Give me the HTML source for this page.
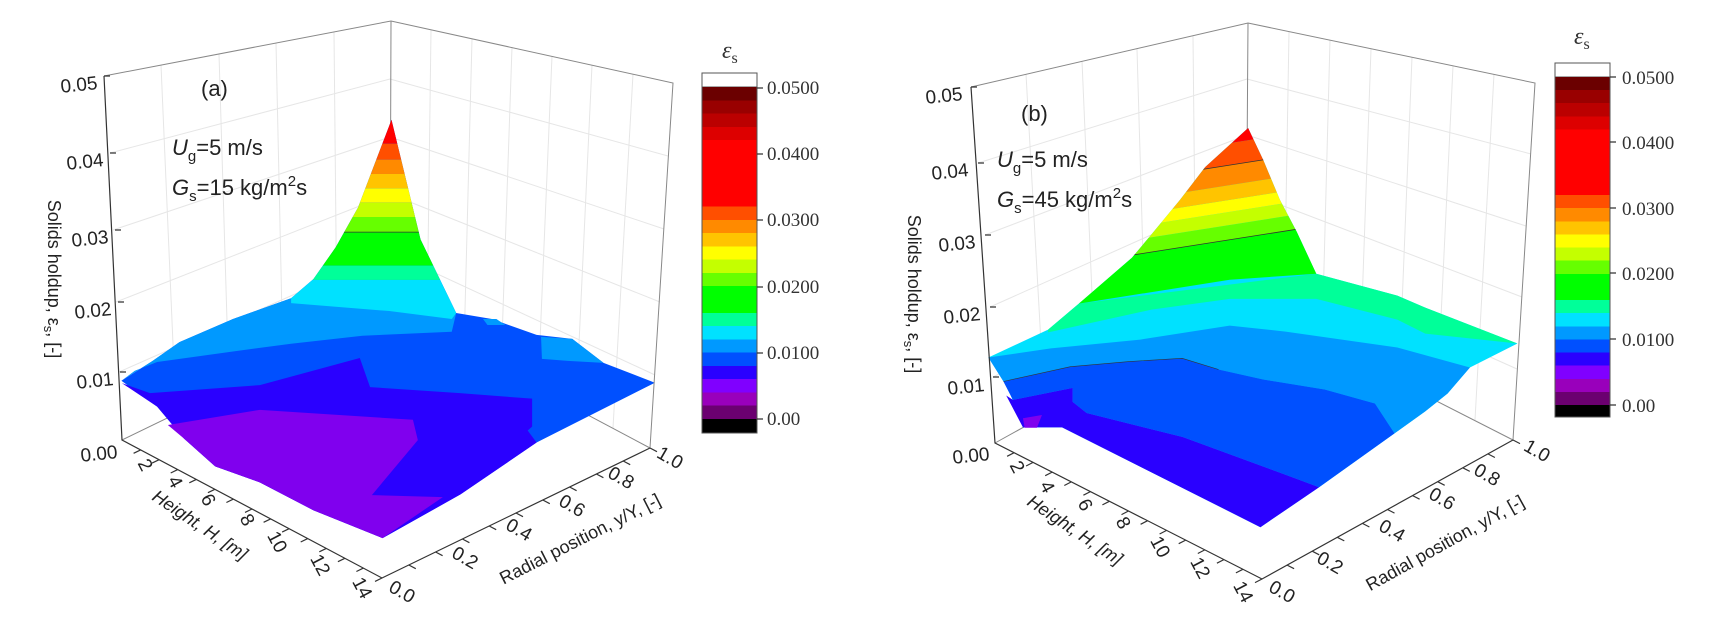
<!DOCTYPE html>
<html><head><meta charset="utf-8"><style>
html,body{margin:0;padding:0;background:#fff;}
svg{display:block;}
.t{font-family:"Liberation Sans",Arial,sans-serif;fill:#222;}
.s{font-family:"Liberation Serif","DejaVu Serif",serif;fill:#333;}
.ax{stroke:#333;stroke-width:1.2;fill:none;}
.gr{stroke:#e6e6e6;stroke-width:1;fill:none;}
.bx{stroke:#888;stroke-width:1;fill:none;}
</style></head><body>
<svg width="1716" height="626" viewBox="0 0 1716 626" xmlns="http://www.w3.org/2000/svg">
<defs>
<linearGradient id="cb" x1="0" y1="0" x2="0" y2="1">
<stop offset="0" stop-color="#6b0000"/><stop offset=".04" stop-color="#6b0000"/>
<stop offset=".04" stop-color="#990000"/><stop offset=".08" stop-color="#990000"/>
<stop offset=".08" stop-color="#bb0000"/><stop offset=".12" stop-color="#bb0000"/>
<stop offset=".12" stop-color="#dd0000"/><stop offset=".16" stop-color="#dd0000"/>
<stop offset=".16" stop-color="#ff0000"/><stop offset=".36" stop-color="#ff0000"/>
<stop offset=".36" stop-color="#ff4f00"/><stop offset=".40" stop-color="#ff4f00"/>
<stop offset=".40" stop-color="#ff8a00"/><stop offset=".44" stop-color="#ff8a00"/>
<stop offset=".44" stop-color="#ffc400"/><stop offset=".48" stop-color="#ffc400"/>
<stop offset=".48" stop-color="#ffff00"/><stop offset=".52" stop-color="#ffff00"/>
<stop offset=".52" stop-color="#c4ff00"/><stop offset=".56" stop-color="#c4ff00"/>
<stop offset=".56" stop-color="#66ff00"/><stop offset=".60" stop-color="#66ff00"/>
<stop offset=".60" stop-color="#00ff00"/><stop offset=".68" stop-color="#00ff00"/>
<stop offset=".68" stop-color="#00ff99"/><stop offset=".72" stop-color="#00ff99"/>
<stop offset=".72" stop-color="#00e1ff"/><stop offset=".76" stop-color="#00e1ff"/>
<stop offset=".76" stop-color="#0099ff"/><stop offset=".80" stop-color="#0099ff"/>
<stop offset=".80" stop-color="#0050ff"/><stop offset=".84" stop-color="#0050ff"/>
<stop offset=".84" stop-color="#2a00ff"/><stop offset=".88" stop-color="#2a00ff"/>
<stop offset=".88" stop-color="#8000ff"/><stop offset=".92" stop-color="#8000ff"/>
<stop offset=".92" stop-color="#9900bb"/><stop offset=".96" stop-color="#9900bb"/>
<stop offset=".96" stop-color="#6b0070"/><stop offset="1" stop-color="#6b0070"/>
</linearGradient>
<clipPath id="pkL"><polygon points="650,748 700,700 750,620 800,520 875,300 940,600 1020,785 1010,800 870,780 650,760"/></clipPath>
<clipPath id="pkR"><polygon points="430,760 525,645 555,595 611,500 656,418 733,320 760,400 790,500 820,580 855,685 700,700"/></clipPath>
</defs>

<!-- ================= LEFT PANEL ================= -->
<g>
<!-- wall grids -->
<path class="gr" d="M176,414 L161,65 M229,388 L219,54 M283,362 L276,43 M337,336 L334,32
M427,330 L431,30 M464,349 L472,39 M501,369 L512,47 M538,389 L552,56 M576,408 L592,65 M613,428 L633,74
M110,153 L390,79 M113,230 L390,137 M116,302 L390,194 M119,372 L390,252
M390,79 L668,156 M390,137 L664,229 M390,194 L660,302 M390,252 L655,375"/>
<path class="bx" d="M122,440 L390,310 L650,448 M391,21 L390,310"/>
<!-- surface -->
<g transform="matrix(0.4464 0 0 0.3984 0.9 0.28)">
<polygon fill="#0050ff" points="270,955 340,905 400,858 520,800 650,748 700,700 750,620 800,520 875,300 940,600 1020,785 1100,800 1200,840 1280,850 1350,910 1465,960 1200,1110 1030,1240 855,1350 700,1280 580,1210 480,1170 410,1100 350,1020"/>
<polygon fill="#0099ff" points="270,955 340,905 400,858 520,800 650,748 1020,785 1010,832 810,842 650,862 530,880 350,908 300,930"/>
<polygon fill="#0099ff" points="1210,845 1280,850 1350,910 1270,905 1212,900"/>
<polygon fill="#0099ff" points="1080,800 1110,800 1130,815 1090,815"/>
<polygon fill="#2a00ff" points="271,961 334,986 580,966 804,898 827,971 1028,986 1190,1000 1190,1070 1180,1080 1200,1110 1030,1240 855,1350 700,1280 580,1210 480,1170 410,1100 350,1020"/>
<polygon fill="#8000ee" points="374,1066 580,1028 923,1053 934,1104 831,1242 990,1247 855,1350 700,1280 580,1210 480,1170 410,1100"/>
<g clip-path="url(#pkL)">
<rect x="600" y="280" width="500" height="80" fill="#ff0000"/>
<rect x="600" y="360" width="500" height="40" fill="#ff4f00"/>
<rect x="600" y="400" width="500" height="36" fill="#ff8a00"/>
<rect x="600" y="436" width="500" height="36" fill="#ffc400"/>
<rect x="600" y="472" width="500" height="36" fill="#ffff00"/>
<rect x="600" y="508" width="500" height="36" fill="#c4ff00"/>
<rect x="600" y="544" width="500" height="38" fill="#66ff00"/>
<rect x="600" y="582" width="500" height="84" fill="#00ff00"/>
<rect x="600" y="666" width="500" height="36" fill="#00ff99"/>
<rect x="600" y="702" width="500" height="100" fill="#00e1ff"/>
<line x1="600" y1="582" x2="1100" y2="582" stroke="#333" stroke-width="2"/>
</g>
</g>
<!-- box -->
<path class="bx" d="M104,76 L391,21 L673,83 L650,448"/>
<path class="ax" d="M104,76 L122,440 L382,578 L650,448"/>
<path class="ax" d="M104,76 l6,0 M110,153 l6,0 M115,230 l6,0 M118,302 l6,0 M120,372 l6,0
M140.6,449.9 l-7,3.4 M159.1,459.7 l-7,3.4 M177.7,469.6 l-7,3.4 M196.3,479.4 l-7,3.4 M214.9,489.3 l-7,3.4 M233.4,499.1 l-7,3.4 M252,509 l-7,3.4 M270.6,518.9 l-7,3.4 M289.1,528.7 l-7,3.4 M307.7,538.6 l-7,3.4 M326.3,548.4 l-7,3.4 M344.9,558.3 l-7,3.4 M363.4,568.1 l-7,3.4 M382,578 l-7,3.4
M408.8,565 l7,3.7 M435.6,552 l7,3.7 M462.4,539 l7,3.7 M489.2,526 l7,3.7 M516,513 l7,3.7 M542.8,500 l7,3.7 M569.6,487 l7,3.7 M596.4,474 l7,3.7 M623.2,461 l7,3.7 M650,448 l7,3.7"/>
<!-- z labels -->
<g class="t" font-size="19" text-anchor="end">
<text x="98" y="89" transform="rotate(-6 98 89)">0.05</text>
<text x="104" y="166" transform="rotate(-6 104 166)">0.04</text>
<text x="109" y="243" transform="rotate(-6 109 243)">0.03</text>
<text x="112" y="315" transform="rotate(-6 112 315)">0.02</text>
<text x="114" y="385" transform="rotate(-6 114 385)">0.01</text>
<text x="118" y="458" transform="rotate(-6 118 458)">0.00</text>
</g>
<!-- H labels -->
<g class="t" font-size="19" text-anchor="middle">
<text x="145" y="471" transform="rotate(62 145 465)">2</text>
<text x="175" y="488" transform="rotate(62 175 482)">4</text>
<text x="208" y="506" transform="rotate(62 208 500)">6</text>
<text x="247" y="526" transform="rotate(62 247 520)">8</text>
<text x="277" y="548" transform="rotate(62 277 542)">10</text>
<text x="320" y="571" transform="rotate(62 320 565)">12</text>
<text x="362" y="594" transform="rotate(62 362 588)">14</text>
<text x="402" y="598" transform="rotate(30 402 592)">0.0</text>
<text x="465" y="564" transform="rotate(30 465 558)">0.2</text>
<text x="519" y="536" transform="rotate(30 519 530)">0.4</text>
<text x="572" y="512" transform="rotate(30 572 506)">0.6</text>
<text x="621" y="484" transform="rotate(30 621 478)">0.8</text>
<text x="670" y="464" transform="rotate(30 670 458)">1.0</text>
</g>
<text class="t" font-size="18" x="200" y="531" text-anchor="middle" transform="rotate(34 200 525)" font-style="italic">Height, H, [m]</text>
<text class="t" font-size="18" x="580" y="545" text-anchor="middle" transform="rotate(-27 580 539)">Radial position, y/Y, [-]</text>
<text class="t" font-size="18" x="54" y="285" text-anchor="middle" transform="rotate(90 54 279)">Solids holdup, ε<tspan font-size="13" dy="4">s</tspan><tspan dy="-4">, [-]</tspan></text>
<text class="t" font-size="22" x="201" y="96">(a)</text>
<text class="t" font-size="22" x="172" y="155"><tspan font-style="italic">U</tspan><tspan font-size="15" dy="6">g</tspan><tspan dy="-6">=5 m/s</tspan></text>
<text class="t" font-size="22" x="172" y="195"><tspan font-style="italic">G</tspan><tspan font-size="15" dy="6">s</tspan><tspan dy="-6">=15 kg/m</tspan><tspan font-size="15" dy="-9">2</tspan><tspan dy="9">s</tspan></text>
<!-- colorbar -->
<text class="s" font-size="24" font-style="italic" x="722" y="58">ε<tspan font-size="16" font-style="normal" dy="5">s</tspan></text>
<rect x="702" y="73" width="55" height="14" fill="#fff" stroke="#555"/>
<rect x="702" y="87" width="55" height="332" fill="url(#cb)"/>
<rect x="702" y="419" width="55" height="14" fill="#000"/>
<rect x="702" y="73" width="55" height="360" fill="none" stroke="#555"/>
<path class="ax" d="M757,88 h6 M757,154 h6 M757,220 h6 M757,287 h6 M757,353 h6 M757,419 h6"/>
<g class="s" font-size="19">
<text x="767" y="94">0.0500</text><text x="767" y="160">0.0400</text><text x="767" y="226">0.0300</text>
<text x="767" y="293">0.0200</text><text x="767" y="359">0.0100</text><text x="767" y="425">0.00</text>
</g>
</g>

<!-- ================= RIGHT PANEL ================= -->
<g>
<path class="gr" d="M1045,415 L1026,74 M1096,387 L1082,61 M1146,360 L1137,49 M1196,332 L1193,36
M1284,323 L1289,32 M1322,343 L1330,40 M1360,362 L1371,49 M1399,381 L1412,57 M1437,401 L1453,66 M1475,420 L1494,74
M978,163 L1247,79 M985,235 L1247,135 M990,307 L1247,192 M993,377 L1247,248
M1247,79 L1531,154 M1247,135 L1526,226 M1247,192 L1522,297 M1247,248 L1517,369"/>
<path class="bx" d="M995,443 L1246,304 L1513,440 M1248,23 L1246,304"/>
<g transform="matrix(0.5587 0 0 0.3992 838.6 0.25)">
<polygon fill="#00e1ff" points="268,895 375,825 430,760 525,645 555,595 611,500 656,418 733,320 760,400 790,500 820,580 855,685 1000,740 1050,770 1215,860 1130,920 1090,985 1050,1030 995,1085 860,1220 755,1320 400,1070 330,1070 300,960"/>
<polygon fill="#00ff99" points="375,825 430,760 855,685 1000,740 1050,770 1215,860 1050,835 1000,800 855,748 700,748 560,775 375,832"/>
<polygon fill="#0099ff" points="268,895 380,872 540,850 700,815 800,830 1000,870 1130,920 1090,985 1050,1030 995,1085 960,1010 870,975 760,950 680,925 615,897 520,905 415,918 295,955"/>
<polygon fill="#0050ff" points="295,955 415,918 520,905 615,897 680,925 760,950 870,975 960,1010 995,1085 860,1220 826,1202 616,1094 444,1034 419,1006 419,971 312,1001"/>
<polygon fill="#2a00ff" points="312,1001 419,971 419,1006 444,1034 616,1094 826,1202 860,1220 755,1320 400,1070 330,1070 300,990"/>
<polygon fill="#8000ee" points="330,1047 364,1039 355,1071 333,1071"/>
<g clip-path="url(#pkR)">
<polygon fill="#00ff00" points="300,688 1000,534 1000,900 300,900"/>
<polygon fill="#66ff00" points="300,651 1000,497 1000,534 300,688"/>
<polygon fill="#c4ff00" points="300,618 1000,464 1000,497 300,651"/>
<polygon fill="#ffff00" points="300,588 1000,434 1000,464 300,618"/>
<polygon fill="#ffc400" points="300,551 1000,397 1000,434 300,588"/>
<polygon fill="#ff8a00" points="300,501 1000,347 1000,397 300,551"/>
<polygon fill="#ff4f00" points="300,446 1000,292 1000,347 300,501"/>
<polygon fill="#ff0000" points="300,200 1000,200 1000,292 300,446"/>
<line x1="300" y1="688" x2="1000" y2="534" stroke="#333" stroke-width="2"/>
<line x1="300" y1="501" x2="1000" y2="347" stroke="#333" stroke-width="2"/>
</g>
<polyline points="295,955 415,918 520,905 615,897 680,925" fill="none" stroke="#333" stroke-width="1.5"/>
</g>
<path class="bx" d="M971,87 L1248,23 L1535,83 L1513,440"/>
<path class="ax" d="M971,87 L995,443 L1262,579 L1513,440"/>
<path class="ax" d="M971,87 l6,0 M978,163 l6,0 M985,235 l6,0 M990,307 l6,0 M993,377 l6,0
M1014.1,452.7 l-7,3.6 M1033.1,462.4 l-7,3.6 M1052.2,472.1 l-7,3.6 M1071.3,481.9 l-7,3.6 M1090.4,491.6 l-7,3.6 M1109.4,501.3 l-7,3.6 M1128.5,511 l-7,3.6 M1147.6,520.7 l-7,3.6 M1166.6,530.4 l-7,3.6 M1185.7,540.1 l-7,3.6 M1204.8,549.9 l-7,3.6 M1223.9,559.6 l-7,3.6 M1242.9,569.3 l-7,3.6 M1262,579 l-7,3.6
M1287.1,565.1 l7,3.6 M1312.2,551.2 l7,3.6 M1337.3,537.3 l7,3.6 M1362.4,523.4 l7,3.6 M1387.5,509.5 l7,3.6 M1412.6,495.6 l7,3.6 M1437.7,481.7 l7,3.6 M1462.8,467.8 l7,3.6 M1487.9,453.9 l7,3.6 M1513,440 l7,3.6"/>
<g class="t" font-size="19" text-anchor="end">
<text x="963" y="100" transform="rotate(-6 963 100)">0.05</text>
<text x="969" y="176" transform="rotate(-6 969 176)">0.04</text>
<text x="976" y="248" transform="rotate(-6 976 248)">0.03</text>
<text x="981" y="320" transform="rotate(-6 981 320)">0.02</text>
<text x="985" y="391" transform="rotate(-6 985 391)">0.01</text>
<text x="990" y="460" transform="rotate(-6 990 460)">0.00</text>
</g>
<g class="t" font-size="19" text-anchor="middle">
<text x="1017" y="473" transform="rotate(62 1017 467)">2</text>
<text x="1047" y="493" transform="rotate(62 1047 487)">4</text>
<text x="1085" y="511" transform="rotate(62 1085 505)">6</text>
<text x="1123" y="529" transform="rotate(62 1123 523)">8</text>
<text x="1160" y="553" transform="rotate(62 1160 547)">10</text>
<text x="1200" y="574" transform="rotate(62 1200 568)">12</text>
<text x="1243" y="598" transform="rotate(62 1243 592)">14</text>
<text x="1282" y="598" transform="rotate(30 1282 592)">0.0</text>
<text x="1330" y="569" transform="rotate(30 1330 563)">0.2</text>
<text x="1392" y="537" transform="rotate(30 1392 531)">0.4</text>
<text x="1442" y="505" transform="rotate(30 1442 499)">0.6</text>
<text x="1487" y="481" transform="rotate(30 1487 475)">0.8</text>
<text x="1537" y="457" transform="rotate(30 1537 451)">1.0</text>
</g>
<text class="t" font-size="18" x="1075" y="536" text-anchor="middle" transform="rotate(34 1075 530)" font-style="italic">Height, H, [m]</text>
<text class="t" font-size="18" x="1445" y="549" text-anchor="middle" transform="rotate(-29 1445 543)">Radial position, y/Y, [-]</text>
<text class="t" font-size="18" x="914" y="300" text-anchor="middle" transform="rotate(90 914 294)">Solids holdup, ε<tspan font-size="13" dy="4">s</tspan><tspan dy="-4">, [-]</tspan></text>
<text class="t" font-size="22" x="1021" y="121">(b)</text>
<text class="t" font-size="22" x="997" y="167"><tspan font-style="italic">U</tspan><tspan font-size="15" dy="6">g</tspan><tspan dy="-6">=5 m/s</tspan></text>
<text class="t" font-size="22" x="997" y="207"><tspan font-style="italic">G</tspan><tspan font-size="15" dy="6">s</tspan><tspan dy="-6">=45 kg/m</tspan><tspan font-size="15" dy="-9">2</tspan><tspan dy="9">s</tspan></text>
<text class="s" font-size="24" font-style="italic" x="1574" y="44">ε<tspan font-size="16" font-style="normal" dy="5">s</tspan></text>
<rect x="1555" y="63" width="55" height="14" fill="#fff" stroke="#555"/>
<rect x="1555" y="77" width="55" height="328" fill="url(#cb)"/>
<rect x="1555" y="405" width="55" height="12" fill="#000"/>
<rect x="1555" y="63" width="55" height="354" fill="none" stroke="#555"/>
<path class="ax" d="M1610,77 h6 M1610,142 h6 M1610,208 h6 M1610,273 h6 M1610,339 h6 M1610,405 h6"/>
<g class="s" font-size="19">
<text x="1622" y="84">0.0500</text><text x="1622" y="149">0.0400</text><text x="1622" y="215">0.0300</text>
<text x="1622" y="280">0.0200</text><text x="1622" y="346">0.0100</text><text x="1622" y="412">0.00</text>
</g>
</g>
</svg>
</body></html>
